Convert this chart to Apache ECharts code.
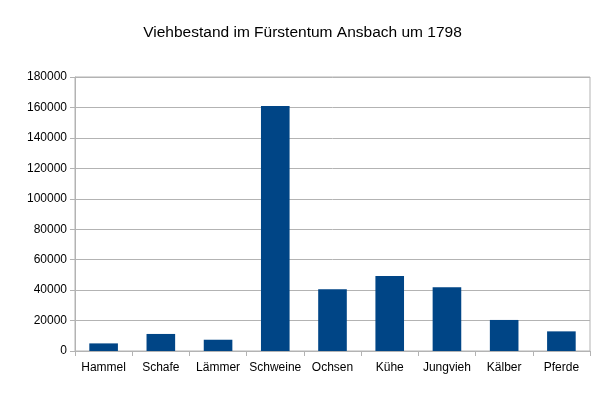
<!DOCTYPE html>
<html><head><meta charset="utf-8">
<script src="https://cdn.jsdelivr.net/npm/echarts@6/dist/echarts.min.js"></script>
<style>html,body{margin:0;padding:0;background:#fff}#c{width:605px;height:394px}</style>
</head><body><div id="c"></div>
<script>
const categories = ["Hammel","Schafe","Lämmer","Schweine","Ochsen","Kühe","Jungvieh","Kälber","Pferde"];
const values = [5000, 11200, 7400, 161000, 40500, 49300, 41900, 20400, 12900];
const yTicks = {min: 0, max: 180000, interval: 20000};

const chart = echarts.init(document.getElementById('c'));
chart.setOption({
  animation: false,
  backgroundColor: '#fff',
  textStyle: {fontFamily: 'Liberation Sans'},
  title: {
    text: 'Viehbestand im Fürstentum Ansbach um 1798',
    left: 'center', top: 20,
    textStyle: {fontFamily: 'Liberation Sans', fontSize: 15.5, fontWeight: 'normal', color: '#000'}
  },
  grid: {left: 75, right: 15, top: 77, bottom: 43, show: true, borderColor: '#b3b3b3', borderWidth: 1},
  xAxis: {
    type: 'category', data: categories,
    axisLine: {lineStyle: {color: '#b3b3b3'}},
    axisTick: {show: true, length: 5, lineStyle: {color: '#b3b3b3'}},
    axisLabel: {color: '#000', fontSize: 12, margin: 11, interval: 0}
  },
  yAxis: {
    type: 'value', min: yTicks.min, max: yTicks.max, interval: yTicks.interval,
    axisLine: {show: true, lineStyle: {color: '#b3b3b3'}},
    axisTick: {show: true, length: 5, lineStyle: {color: '#b3b3b3'}},
    splitLine: {lineStyle: {color: '#b3b3b3'}},
    axisLabel: {color: '#000', fontSize: 12, margin: 8, formatter: v => String(v)}
  },
  series: [{type: 'bar', data: values, barWidth: '50%', itemStyle: {color: '#004586'}}]
});
</script></body></html>
